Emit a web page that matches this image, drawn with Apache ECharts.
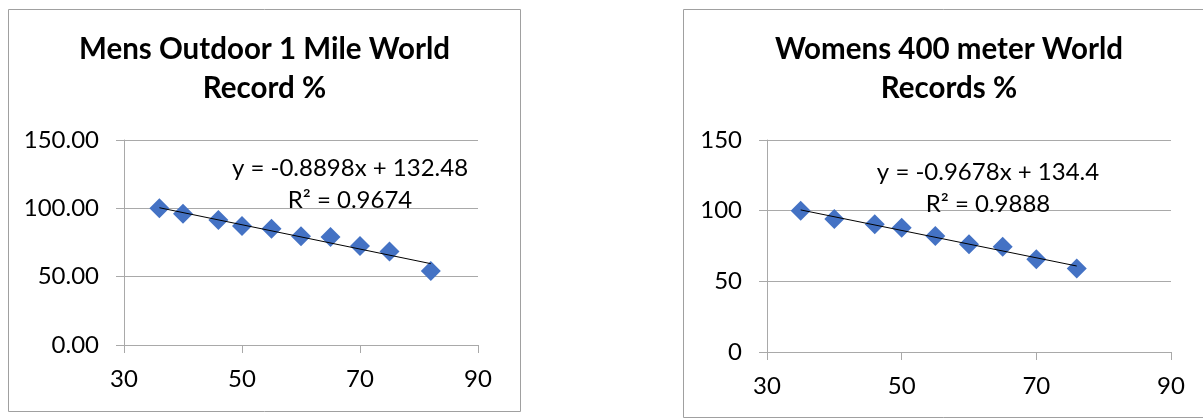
<!DOCTYPE html>
<html>
<head>
<meta charset="utf-8">
<title>World Record % by Age</title>
<script src="https://cdn.jsdelivr.net/npm/echarts@6/dist/echarts.min.js"></script>
<style>
  html, body { margin: 0; padding: 0; background: #ffffff; }
  #chart { width: 1203px; height: 419px; }
</style>
</head>
<body>
<div id="chart"></div>
<script>
// Men's outdoor 1 mile: age vs. world record %
const menAges = [36, 40, 46, 50, 55, 60, 65, 70, 75, 82];
const menPct = [100, 96, 91.4, 87.1, 85, 79.5, 79, 72.4, 68.5, 54.1];
const menSlope = -0.8898;
const menIntercept = 132.48;
const menR2 = 0.9674;

// Women's 400 meter: age vs. world record %
const womenAges = [35, 40, 46, 50, 55, 60, 65, 70, 76];
const womenPct = [100, 94.1, 90.4, 87.9, 82.1, 76.2, 74.5, 65.7, 59.1];
const womenSlope = -0.9678;
const womenIntercept = 134.4;
const womenR2 = 0.9888;

const menTitle = 'Mens Outdoor 1 Mile World\nRecord %';
const womenTitle = 'Womens 400 meter World\nRecords %';

const xTicks = [30, 50, 70, 90];
const yTicks = [0, 50, 100, 150];

const FONT = 'Lato, "Open Sans", sans-serif';
const GRID_GRAY = '#a9a9a9';
const MARKER = '#4472C4';

function pairs(xs, ys) {
  return xs.map((x, i) => [x, ys[i]]);
}

// Linear trendline spanning the data's x range
function trend(xs, slope, intercept) {
  const lo = Math.min(...xs), hi = Math.max(...xs);
  return [[lo, slope * lo + intercept], [hi, slope * hi + intercept]];
}

function equation(slope, intercept, r2) {
  const sign = intercept >= 0 ? '+' : '-';
  return 'y = ' + slope + 'x ' + sign + ' ' + Math.abs(intercept) + '\nR² = ' + r2;
}

function xAxisCfg(gridIndex) {
  return {
    type: 'value', gridIndex,
    min: xTicks[0], max: xTicks[xTicks.length - 1], interval: xTicks[1] - xTicks[0],
    axisLine: { show: true, lineStyle: { color: GRID_GRAY, width: 1 } },
    axisTick: { show: true, length: 8, lineStyle: { color: GRID_GRAY } },
    splitLine: { show: false },
    axisLabel: { color: '#000', fontFamily: FONT, fontSize: 24, margin: 22 }
  };
}

function yAxisCfg(gridIndex, decimals) {
  return {
    type: 'value', gridIndex,
    min: yTicks[0], max: yTicks[yTicks.length - 1], interval: yTicks[1] - yTicks[0],
    axisLine: { show: true, lineStyle: { color: GRID_GRAY, width: 1 } },
    axisTick: { show: true, length: 8, lineStyle: { color: GRID_GRAY } },
    splitLine: { show: true, lineStyle: { color: GRID_GRAY, width: 1 } },
    axisLabel: {
      color: '#000', fontFamily: FONT, fontSize: 24, margin: 25,
      formatter: v => v.toFixed(decimals)
    }
  };
}

function scatterSeries(idx, data) {
  return {
    type: 'scatter', xAxisIndex: idx, yAxisIndex: idx,
    data, symbol: 'diamond', symbolSize: 20,
    itemStyle: { color: MARKER, opacity: 1 }, z: 3, silent: true
  };
}

function trendSeries(idx, data) {
  return {
    type: 'line', xAxisIndex: idx, yAxisIndex: idx,
    data, showSymbol: false, symbol: 'none',
    lineStyle: { color: '#000', width: 1 }, z: 4, silent: true
  };
}

const chart = echarts.init(document.getElementById('chart'), null, { renderer: 'canvas' });

chart.setOption({
  animation: false,
  backgroundColor: '#ffffff',
  grid: [
    { left: 124, top: 140, width: 354, height: 205 },
    { left: 767, top: 140, width: 404, height: 212 }
  ],
  xAxis: [xAxisCfg(0), xAxisCfg(1)],
  yAxis: [yAxisCfg(0, 2), yAxisCfg(1, 0)],
  series: [
    scatterSeries(0, pairs(menAges, menPct)),
    trendSeries(0, trend(menAges, menSlope, menIntercept)),
    scatterSeries(1, pairs(womenAges, womenPct)),
    trendSeries(1, trend(womenAges, womenSlope, womenIntercept))
  ],
  graphic: [
    // chart frames
    { type: 'rect', shape: { x: 8.5, y: 9.5, width: 512, height: 402 },
      style: { fill: 'none', stroke: '#a0a0a0', lineWidth: 1 }, z: 0 },
    { type: 'rect', shape: { x: 683.5, y: 9.5, width: 540, height: 408 },
      style: { fill: 'none', stroke: '#a0a0a0', lineWidth: 1 }, z: 0 },
    // titles
    { type: 'text', x: 264.5, y: 68.5, z: 10,
      style: { text: menTitle, textAlign: 'center', textVerticalAlign: 'middle',
               fontFamily: FONT, fontWeight: 'bold', fontSize: 29.5, lineHeight: 39, fill: '#000' } },
    { type: 'text', x: 949, y: 68.5, z: 10,
      style: { text: womenTitle, textAlign: 'center', textVerticalAlign: 'middle',
               fontFamily: FONT, fontWeight: 'bold', fontSize: 29.5, lineHeight: 39, fill: '#000' } },
    // trendline equations
    { type: 'text', x: 350, y: 184, z: 10,
      style: { text: equation(menSlope, menIntercept, menR2), textAlign: 'center', textVerticalAlign: 'middle',
               fontFamily: FONT, fontSize: 24, lineHeight: 32, fill: '#000' } },
    { type: 'text', x: 988, y: 188, z: 10,
      style: { text: equation(womenSlope, womenIntercept, womenR2), textAlign: 'center', textVerticalAlign: 'middle',
               fontFamily: FONT, fontSize: 24, lineHeight: 32, fill: '#000' } }
  ]
});
</script>
</body>
</html>
